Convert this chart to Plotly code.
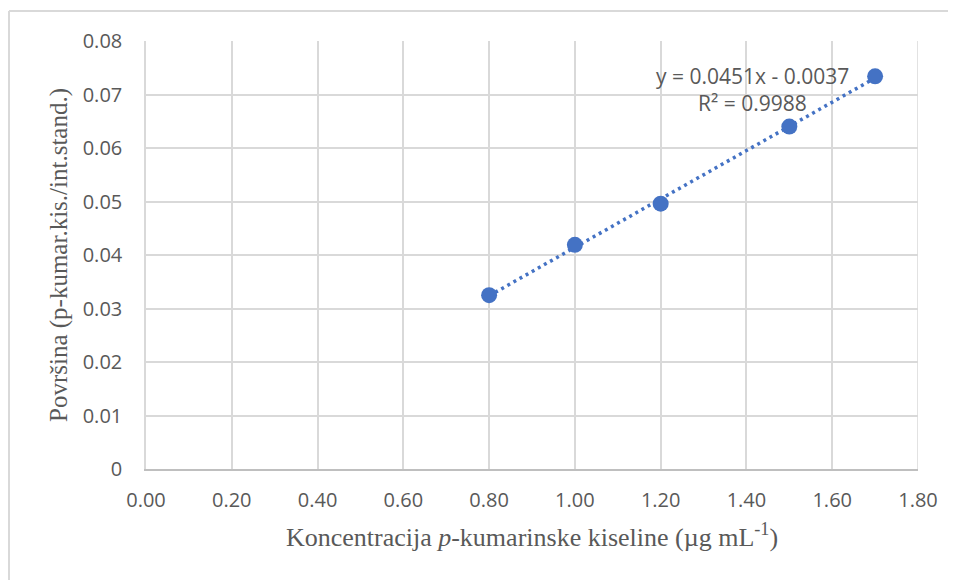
import numpy as np
import plotly.graph_objects as go

# Data
concentration = [0.80, 1.00, 1.20, 1.50, 1.70]
area_ratio = [0.0325, 0.0419, 0.0496, 0.0640, 0.0734]
x_ticks = [0.0, 0.2, 0.4, 0.6, 0.8, 1.0, 1.2, 1.4, 1.6, 1.8]
x_ticklabels = ["0.00", "0.20", "0.40", "0.60", "0.80", "1.00", "1.20", "1.40", "1.60", "1.80"]
y_ticks = [0, 0.01, 0.02, 0.03, 0.04, 0.05, 0.06, 0.07, 0.08]
y_ticklabels = ["0", "0.01", "0.02", "0.03", "0.04", "0.05", "0.06", "0.07", "0.08"]
eq_text = "y = 0.0451x - 0.0037"
r2_text = "R² = 0.9988"

BLUE = "#4472C4"
GRID = "#d9d9d9"
TEXT = "#595959"

slope, intercept = np.polyfit(concentration, area_ratio, 1)
trend_x = [min(concentration), max(concentration)]
trend_y = [slope * v + intercept for v in trend_x]

# plot area (figure pixels)
L, T, PW, PH = 138, 33, 772, 428

fig = go.Figure()
fig.add_trace(go.Scatter(
    x=trend_x, y=trend_y, mode="lines",
    line=dict(color=BLUE, width=3.5, dash="3px,4px"),
    hoverinfo="skip", showlegend=False,
))
fig.add_trace(go.Scatter(
    x=concentration, y=area_ratio, mode="markers",
    marker=dict(color=BLUE, size=16, line=dict(width=0)),
    showlegend=False,
))

fig.add_annotation(x=1.413, y=0.0735, xref="x", yref="y", text=eq_text,
                   showarrow=False, font=dict(family="Open Sans", size=21, color=TEXT))
fig.add_annotation(x=1.413, y=0.0684, xref="x", yref="y", text=r2_text,
                   showarrow=False, font=dict(family="Open Sans", size=21, color=TEXT))

# outer chart border (top and left visible)
bx = (1 - L) / PW
by = (T + PH - 3) / PH
fig.add_shape(type="line", xref="paper", yref="paper",
              x0=bx, x1=1.1, y0=by, y1=by,
              line=dict(color=GRID, width=2))
fig.add_shape(type="line", xref="paper", yref="paper",
              x0=bx, x1=bx, y0=by, y1=-0.35,
              line=dict(color=GRID, width=2))

fig.update_layout(
    width=956, height=580,
    margin=dict(l=L, r=956 - L - PW, t=T, b=580 - T - PH),
    paper_bgcolor="white", plot_bgcolor="white",
    xaxis=dict(
        range=[0, 1.8], tickvals=x_ticks, ticktext=x_ticklabels,
        showgrid=True, gridcolor=GRID, gridwidth=1.5,
        showline=True, linecolor="#bfbfbf", linewidth=1.5, mirror=False,
        zeroline=False, ticks="", ticklabelstandoff=12,
        tickfont=dict(family="Open Sans", size=20, color=TEXT),
        title=dict(text="Koncentracija <i>p</i>-kumarinske kiseline (µg mL<sup>-1</sup>)",
                   font=dict(family="Liberation Serif", size=26, color=TEXT), standoff=16),
    ),
    yaxis=dict(
        range=[0, 0.08], tickvals=y_ticks, ticktext=y_ticklabels,
        showgrid=True, gridcolor=GRID, gridwidth=1.5,
        showline=True, linecolor=GRID, linewidth=1.5,
        zeroline=False, ticks="", ticklabelstandoff=18,
        tickfont=dict(family="Open Sans", size=20, color=TEXT),
        title=dict(text="Površina (p-kumar.kis./int.stand.)",
                   font=dict(family="Liberation Serif", size=25, color=TEXT), standoff=8),
    ),
)
# right edge gridline of the plot area
fig.add_shape(type="line", xref="x", yref="paper", x0=1.8, x1=1.8, y0=0, y1=1,
              line=dict(color=GRID, width=1.5), layer="below")

fig.write_html("out.html")
